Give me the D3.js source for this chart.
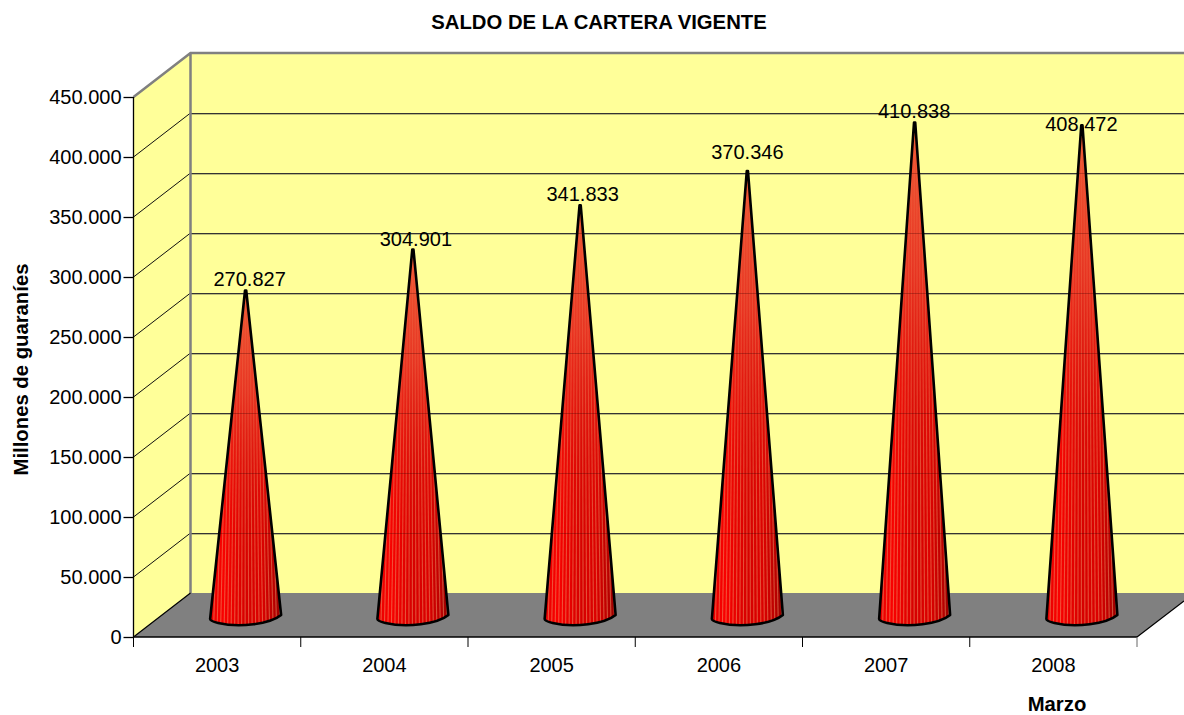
<!DOCTYPE html>
<html><head><meta charset="utf-8">
<script src="https://cdn.jsdelivr.net/npm/d3@7/dist/d3.min.js"></script>
<style>html,body{margin:0;background:#fff;overflow:hidden}svg{display:block}text{font-family:"Liberation Sans",Arial,sans-serif;fill:#000}</style>
</head><body><svg id="c" width="1184" height="715"></svg>
<script>
const categories = ["2003","2004","2005","2006","2007","2008"];
const values = [270827,304901,341833,370346,410838,408472];
const valueLabels = ["270.827","304.901","341.833","370.346","410.838","408.472"];
const yTicks = [0,50000,100000,150000,200000,250000,300000,350000,400000,450000];
const yTickLabels = ["0","50.000","100.000","150.000","200.000","250.000","300.000","350.000","400.000","450.000"];
const title = "SALDO DE LA CARTERA VIGENTE", yTitle = "Millones de guaraníes", xTitle = "Marzo";

const svg = d3.select("#c");
const y = d3.scaleLinear().domain([0,450000]).range([637,97]);
const x = d3.scaleBand().domain(categories).range([133.5,1137]);
const dx = 57, dy = -44;
const defs = svg.append("defs");
// hand-placed data label nudges of the original chart [dx, dy]
const labelNudge = [[4,1],[3,2],[2.5,1],[0,-7],[-0.5,1],[-0.5,11]];

const g = defs.append("linearGradient").attr("id","cone");
[[0,"#e60000"],[0.18,"#fa0000"],[0.5,"#d60000"],[0.72,"#dc0000"],[0.9,"#b80000"],[1,"#900000"]].forEach(s=>g.append("stop").attr("offset",s[0]).attr("stop-color",s[1]));
const gt = defs.append("linearGradient").attr("id","coneTop").attr("x1",0).attr("x2",0).attr("y1",0).attr("y2",1);
[[0,"#f06038",0.95],[0.3,"#ee4a30",0.7],[0.6,"#e82a18",0.22],[0.85,"#e81000",0.03],[1,"#e00000",0]].forEach(s=>gt.append("stop").attr("offset",s[0]).attr("stop-color",s[1]).attr("stop-opacity",s[2]));

const left = 133.5, backX = left+dx;
const yTop = y(450000), yBot = y(0);
svg.append("polygon").attr("fill","#ffff99")
  .attr("points",[[left,yTop],[backX,yTop+dy],[1184,yTop+dy],[1184,yBot+dy],[backX,yBot+dy],[left,yBot]].join(" "));
svg.append("polygon").attr("fill","#808080")
  .attr("points",[[left,yBot],[backX,yBot+dy],[1184,yBot+dy],[1184,yBot+dy+8],[1137,yBot]].join(" "));

const grid = svg.append("g").attr("fill","none");
yTicks.slice(1,-1).forEach(t=>{
  const gy = y(t)+dy;
  grid.append("path").attr("stroke","#111").attr("stroke-width",1).attr("d",`M${left},${y(t)}L${backX},${gy}`);
  grid.append("path").attr("stroke","#bcbc78").attr("stroke-width",1).attr("d",`M${backX},${gy+1.5}H1184`);
  grid.append("path").attr("stroke","#333").attr("stroke-width",1).attr("d",`M${backX},${gy+.5}H1184`);
});
svg.append("path").attr("fill","none").attr("stroke","#808080").attr("stroke-width",2.5)
  .attr("d",`M${left},${yTop}L${backX},${yTop+dy}H1184M${backX},${yTop+dy}V${yBot+dy}`);
svg.append("path").attr("fill","none").attr("stroke","#000").attr("stroke-width",1.2)
  .attr("d",`M${left},${yBot}L${backX},${yBot+dy}M1137,${yBot}L1184,${yBot+dy+8}`);

const baseY = 617, rx = 35.5;
const cones = svg.append("g");
values.forEach((v,i)=>{
  const cx = x(categories[i]) + x.bandwidth()/2 + 28.5;
  const ay = y(v) - 21.5;
  const L = cx-rx, R = cx+rx;
  const d = `M${cx-0.6},${ay}H${cx+0.6}L${R},${baseY-2}C${R-11},${baseY+7} ${cx-6},${baseY+11} ${L+8},${baseY+6}Q${L},${baseY+4} ${L},${baseY+2}Z`;
  const id = "clip"+i;
  defs.append("clipPath").attr("id",id).append("path").attr("d",d);
  const c = cones.append("g");
  c.append("path").attr("d",d).attr("fill","url(#cone)");
  const st = c.append("g").attr("clip-path",`url(#${id})`);
  d3.range(-rx,rx,3.5).forEach(o=>{
    st.append("line").attr("x1",cx+o*0.7).attr("x2",cx+o).attr("y1",ay).attr("y2",baseY+11)
      .attr("stroke","#f0a070").attr("stroke-opacity",0.5).attr("stroke-width",1.1);
  });
  st.append("rect").attr("x",L).attr("y",ay).attr("width",2*rx).attr("height",baseY+11-ay).attr("fill","url(#coneTop)");
  yTicks.slice(1,-1).forEach(t=>{
    st.append("line").attr("x1",L).attr("x2",R).attr("y1",y(t)+dy+.5).attr("y2",y(t)+dy+.5).attr("stroke","#400000").attr("stroke-opacity",0.3);
  });
  c.append("path").attr("d",d).attr("fill","none").attr("stroke","#000").attr("stroke-width",2.6).attr("stroke-linejoin","round");
  svg.append("text").attr("x",cx+labelNudge[i][0]).attr("y",ay-5.5+labelNudge[i][1]).attr("text-anchor","middle").attr("font-size",20).text(valueLabels[i]);
});

const yAxis = svg.append("g").attr("transform",`translate(${left},0)`).call(d3.axisLeft(y).tickValues(yTicks).tickSize(10).tickPadding(2).tickFormat((d,i)=>yTickLabels[i]));
yAxis.selectAll("path,line").attr("stroke","#000").attr("stroke-width",1.3);
yAxis.select(".domain").attr("d",`M0,${yTop}V${yBot}`);
yAxis.selectAll("text").attr("font-size",20).style("font-family",'"Liberation Sans",Arial,sans-serif').attr("fill","#000");

const xb = svg.append("g");
xb.append("path").attr("d",`M${left},${yBot}H1137`).attr("stroke","#000").attr("stroke-width",1.5);
x.domain().concat([null]).forEach((c,i)=>{
  const px = left + i*x.step();
  xb.append("line").attr("x1",px).attr("x2",px).attr("y1",yBot).attr("y2",yBot+10).attr("stroke",i<6?"#000":"#666").attr("stroke-width",1);
  if(c) xb.append("text").attr("x",px+x.step()/2).attr("y",672).attr("text-anchor","middle").attr("font-size",20).text(c);
});

svg.append("text").attr("x",599).attr("y",29).attr("text-anchor","middle").attr("font-size",20.3).attr("font-weight","bold").text(title);
svg.append("text").attr("x",1057).attr("y",710.5).attr("text-anchor","middle").attr("font-size",20.3).attr("font-weight","bold").text(xTitle);
svg.append("text").attr("transform","translate(28,369.5) rotate(-90)").attr("text-anchor","middle").attr("font-size",20.3).attr("font-weight","bold").text(yTitle);
</script></body></html>
